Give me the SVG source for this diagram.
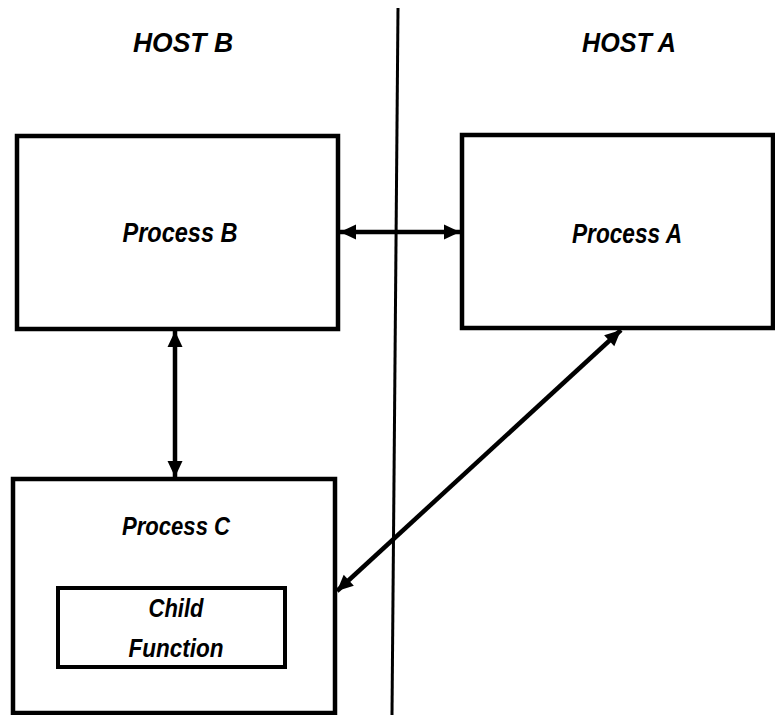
<svg xmlns="http://www.w3.org/2000/svg" width="775" height="715" viewBox="0 0 775 715">
<style>
.box{fill:none;stroke:#000;stroke-width:4.5}
.inner{fill:none;stroke:#000;stroke-width:4}
.lbl{font-family:"Liberation Sans",Arial,sans-serif;font-weight:bold;font-style:italic;text-anchor:middle;fill:#000}
.conn{fill:none;stroke:#000;stroke-width:4.5}
</style>
<defs>
<marker id="ah" markerUnits="userSpaceOnUse" markerWidth="18" markerHeight="18" viewBox="0 0 18 18" refX="17" refY="9" orient="auto-start-reverse">
<path d="M1,1.5 L17,9 L1,16.5 Z" fill="#000"/>
</marker>
</defs>
<rect width="775" height="715" fill="#fff"/>
<g id="divider">
<line x1="398" y1="8" x2="392" y2="715" stroke="#000" stroke-width="3"/>
</g>
<g id="hostB">
<text class="lbl" x="183" y="52" font-size="28" textLength="100" lengthAdjust="spacingAndGlyphs">HOST B</text>
</g>
<g id="hostA">
<text class="lbl" x="629" y="52" font-size="28" textLength="94" lengthAdjust="spacingAndGlyphs">HOST A</text>
</g>
<g id="processB">
<rect class="box" x="17" y="136" width="321" height="193"/>
<text class="lbl" x="180" y="242" font-size="27" textLength="115" lengthAdjust="spacingAndGlyphs">Process B</text>
</g>
<g id="processA">
<rect class="box" x="462" y="135" width="311" height="193"/>
<text class="lbl" x="627" y="243" font-size="27" textLength="110" lengthAdjust="spacingAndGlyphs">Process A</text>
</g>
<g id="processC">
<rect class="box" x="13" y="479" width="322" height="234"/>
<text class="lbl" x="176" y="535" font-size="25" textLength="108" lengthAdjust="spacingAndGlyphs">Process C</text>
</g>
<g id="childFunction">
<rect class="inner" x="58" y="588" width="227" height="79"/>
<text class="lbl" x="176" y="617" font-size="25" textLength="55" lengthAdjust="spacingAndGlyphs">Child</text>
<text class="lbl" x="176" y="657" font-size="25" textLength="95" lengthAdjust="spacingAndGlyphs">Function</text>
</g>
<g id="connectors">
<line class="conn" x1="340" y1="232" x2="460" y2="232" marker-start="url(#ah)" marker-end="url(#ah)"/>
<line class="conn" x1="175" y1="331" x2="175" y2="477" marker-start="url(#ah)" marker-end="url(#ah)"/>
<line class="conn" x1="621" y1="330" x2="337" y2="591" marker-start="url(#ah)" marker-end="url(#ah)"/>
</g>
</svg>
